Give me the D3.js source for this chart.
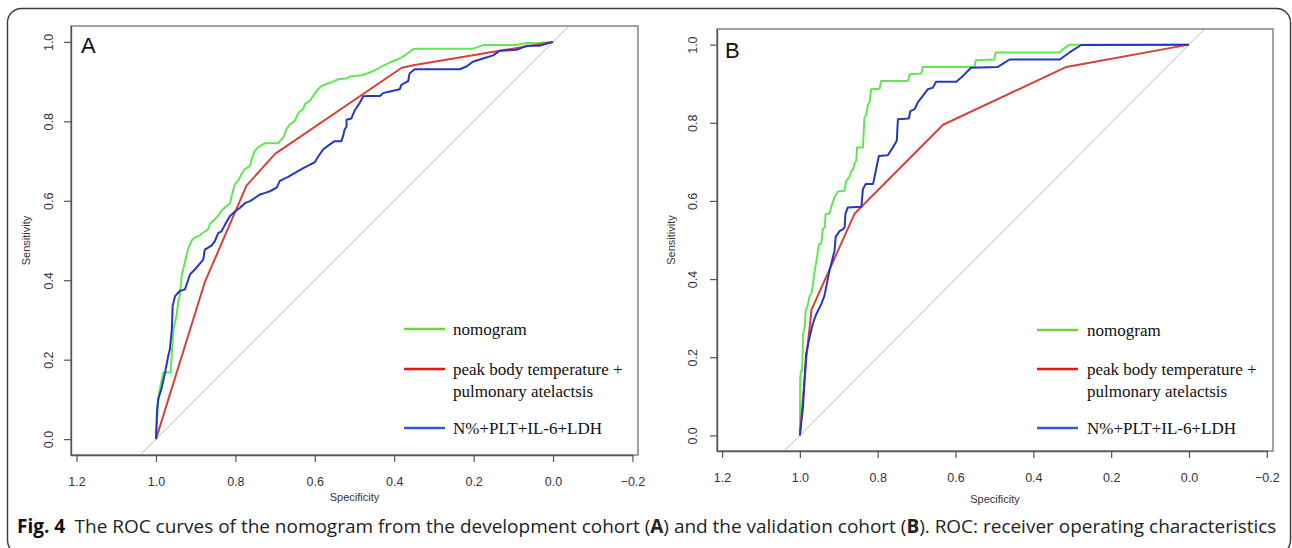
<!DOCTYPE html>
<html>
<head>
<meta charset="utf-8">
<script src="https://cdn.jsdelivr.net/npm/d3@7/dist/d3.min.js"></script>
<style>
  html, body { margin: 0; padding: 0; background: #fff; }
  svg { display: block; }
</style>
</head>
<body>
<svg id="chart" width="1292" height="548"></svg>
<script>
// ---------- DATA ----------
const xTicks = [1.2, 1.0, 0.8, 0.6, 0.4, 0.2, 0.0, -0.2];
const yTicks = [0.0, 0.2, 0.4, 0.6, 0.8, 1.0];
const seriesNames = ["nomogram", "peak body temperature +|pulmonary atelactsis", "N%+PLT+IL-6+LDH"];

// Panel A (development cohort)
const aNomoSpec = [1.000,0.997,0.994,0.990,0.982,0.963,0.961,0.956,0.952,0.948,0.944,0.940,0.935,0.931,0.927,0.923,0.919,0.910,0.902,0.889,0.885,0.868,0.864,0.851,0.843,0.835,0.826,0.814,0.809,0.801,0.793,0.784,0.776,0.763,0.759,0.751,0.742,0.725,0.692,0.679,0.671,0.662,0.650,0.641,0.629,0.625,0.612,0.604,0.595,0.583,0.570,0.558,0.541,0.520,0.511,0.482,0.461,0.444,0.427,0.411,0.394,0.381,0.369,0.352,0.343,0.201,0.176,0.092,0.066,0.033,0.000];
const aNomoSens = [0.000,0.052,0.102,0.127,0.168,0.168,0.198,0.278,0.295,0.312,0.345,0.362,0.412,0.429,0.446,0.462,0.479,0.500,0.508,0.513,0.517,0.529,0.542,0.554,0.563,0.575,0.584,0.592,0.613,0.642,0.651,0.668,0.680,0.688,0.705,0.726,0.735,0.745,0.745,0.760,0.781,0.793,0.801,0.822,0.831,0.843,0.852,0.864,0.877,0.889,0.894,0.898,0.906,0.908,0.913,0.916,0.923,0.931,0.940,0.948,0.955,0.961,0.969,0.982,0.983,0.983,0.992,0.992,0.997,0.998,1.000];

const aClinSpec = [1.000,0.877,0.772,0.700,0.381,0.352,0.000];
const aClinSens = [0.000,0.395,0.638,0.718,0.935,0.941,1.000];

const aLabSpec = [1.000,0.997,0.994,0.986,0.977,0.969,0.965,0.960,0.958,0.952,0.940,0.927,0.914,0.902,0.881,0.877,0.860,0.852,0.843,0.835,0.826,0.814,0.801,0.789,0.776,0.763,0.751,0.738,0.725,0.713,0.696,0.688,0.667,0.650,0.629,0.612,0.600,0.591,0.579,0.562,0.550,0.533,0.529,0.525,0.520,0.520,0.508,0.504,0.499,0.487,0.478,0.462,0.436,0.428,0.411,0.394,0.386,0.382,0.365,0.361,0.348,0.235,0.218,0.202,0.176,0.151,0.134,0.092,0.067,0.034,0.000];
const aLabSens = [0.000,0.077,0.102,0.127,0.168,0.210,0.226,0.276,0.335,0.360,0.373,0.377,0.415,0.427,0.452,0.477,0.487,0.498,0.519,0.523,0.540,0.561,0.573,0.582,0.594,0.599,0.607,0.616,0.620,0.624,0.633,0.650,0.660,0.670,0.682,0.691,0.697,0.712,0.729,0.742,0.750,0.750,0.762,0.779,0.787,0.804,0.807,0.817,0.828,0.846,0.863,0.864,0.864,0.871,0.875,0.879,0.881,0.892,0.901,0.921,0.931,0.931,0.938,0.950,0.958,0.966,0.978,0.980,0.990,0.990,1.000];

// Panel B (validation cohort)
const bNomoSpec = [1.000,0.999,0.997,0.994,0.992,0.988,0.985,0.979,0.975,0.971,0.967,0.962,0.956,0.951,0.945,0.941,0.936,0.934,0.924,0.917,0.911,0.902,0.885,0.881,0.872,0.868,0.864,0.859,0.855,0.853,0.838,0.834,0.829,0.825,0.821,0.817,0.795,0.791,0.722,0.718,0.688,0.684,0.551,0.548,0.500,0.497,0.332,0.324,0.307,0.000];
const bNomoSens = [0.000,0.148,0.165,0.165,0.259,0.272,0.319,0.336,0.357,0.361,0.383,0.421,0.455,0.489,0.491,0.528,0.532,0.566,0.568,0.592,0.609,0.624,0.626,0.651,0.662,0.677,0.679,0.698,0.702,0.737,0.737,0.813,0.822,0.847,0.852,0.886,0.887,0.907,0.907,0.924,0.926,0.943,0.943,0.960,0.962,0.980,0.980,0.988,1.000,1.000];

const bClinSpec = [1.000,0.983,0.970,0.859,0.632,0.315,0.000];
const bClinSens = [0.000,0.203,0.322,0.568,0.795,0.943,1.000];

const bLabSpec = [1.000,0.992,0.984,0.975,0.967,0.958,0.945,0.937,0.924,0.911,0.908,0.898,0.889,0.885,0.883,0.877,0.842,0.838,0.831,0.812,0.804,0.797,0.774,0.761,0.751,0.748,0.720,0.716,0.705,0.697,0.684,0.671,0.658,0.650,0.598,0.581,0.560,0.491,0.461,0.332,0.307,0.277,0.000];
const bLabSens = [0.000,0.072,0.208,0.251,0.285,0.310,0.336,0.357,0.421,0.472,0.508,0.523,0.528,0.532,0.566,0.583,0.585,0.630,0.643,0.643,0.681,0.715,0.717,0.737,0.754,0.809,0.811,0.830,0.835,0.852,0.869,0.886,0.890,0.905,0.905,0.920,0.941,0.943,0.962,0.962,0.980,0.999,1.000];

const curveColors = ["#5fe84f", "#d8413a", "#2537c0"];
const legendColors = ["#77d13f", "#f01010", "#2a5fd0"];

// ---------- DRAW ----------
const svg = d3.select("#chart");

// outer rounded frame
svg.append("rect")
  .attr("x", 7.5).attr("y", 8.5).attr("width", 1283).attr("height", 546)
  .attr("rx", 14).attr("ry", 14)
  .attr("fill", "none").attr("stroke", "#3a3a3a").attr("stroke-width", 1.4);

const panels = [
  { id: "A", box: [71, 638, 26, 455], xDom: [1.214, -0.214], label: "A", labelPos: [81, 53],
    series: [[aNomoSpec, aNomoSens], [aClinSpec, aClinSens], [aLabSpec, aLabSens]],
    yLabX: 30, yTickX: 53, xTickY: 482, xLabY: 501,
    legend: { x1: 404, x2: 445, tx: 453, ys: [329, 369, 428] } },
  { id: "B", box: [717, 1273, 29, 451], xDom: [1.213, -0.216], label: "B", labelPos: [725, 58],
    series: [[bNomoSpec, bNomoSens], [bClinSpec, bClinSens], [bLabSpec, bLabSens]],
    yLabX: 675, yTickX: 697, xTickY: 478, xLabY: 503,
    legend: { x1: 1037, x2: 1078, tx: 1087, ys: [330, 369, 428] } }
];

panels.forEach(p => {
  const [L, R, T, B] = p.box;
  const x = d3.scaleLinear().domain(p.xDom).range([L, R]);
  const y = d3.scaleLinear().domain([-0.04, 1.04]).range([B, T]);
  const g = svg.append("g");

  const clipId = "clip" + p.id;
  svg.append("clipPath").attr("id", clipId)
    .append("rect").attr("x", L).attr("y", T).attr("width", R - L).attr("height", B - T);

  // diagonal reference
  g.append("line")
    .attr("clip-path", `url(#${clipId})`)
    .attr("x1", x(1.2)).attr("y1", y(-0.2)).attr("x2", x(-0.2)).attr("y2", y(1.2))
    .attr("stroke", "#cfcfcf").attr("stroke-width", 1.1);

  // curves
  const line = d3.line().x(d => x(d[0])).y(d => y(d[1]));
  p.series.forEach((s, i) => {
    const pts = s[0].map((v, k) => [v, s[1][k]]);
    g.append("path").datum(pts)
      .attr("d", line)
      .attr("fill", "none")
      .attr("stroke", curveColors[i])
      .attr("stroke-width", 2)
      .attr("stroke-linejoin", "round");
  });

  // box
  g.append("rect").attr("x", L).attr("y", T).attr("width", R - L).attr("height", B - T)
    .attr("fill", "none").attr("stroke", "#8a8a8a").attr("stroke-width", 1.6);

  // axes
  const xAxis = d3.axisBottom(x).tickValues(xTicks).tickSize(7).tickPadding(6)
    .tickFormat(d3.format(".1f"));
  const xg = g.append("g").attr("transform", `translate(0,${B})`).call(xAxis);
  xg.select(".domain").attr("stroke", "#555").attr("stroke-width", 1.4)
    .attr("d", `M${L},0.5H${x(-0.2) + 1}`);
  xg.selectAll(".tick line").attr("stroke", "#555").attr("stroke-width", 1.2);
  xg.selectAll(".tick text").attr("font-family", "Liberation Sans, Arial, sans-serif")
    .attr("font-size", 12.5).attr("fill", "#333").attr("y", p.xTickY - B).attr("dy", "0.35em");

  const yAxis = d3.axisLeft(y).tickValues(yTicks).tickSize(7).tickFormat(d3.format(".1f"));
  const yg = g.append("g").attr("transform", `translate(${L},0)`).call(yAxis);
  yg.select(".domain").attr("stroke", "#555").attr("stroke-width", 1.4)
    .attr("d", `M0.5,${T}V${B}`);
  yg.selectAll(".tick line").attr("stroke", "#555").attr("stroke-width", 1.2);
  yg.selectAll(".tick text")
    .attr("font-family", "Liberation Sans, Arial, sans-serif")
    .attr("font-size", 12.5).attr("fill", "#333")
    .attr("x", null).attr("dy", null)
    .attr("text-anchor", "middle")
    .attr("transform", `translate(${p.yTickX - L},0) rotate(-90)`)
    .attr("y", 0);

  // axis titles
  g.append("text")
    .attr("transform", `translate(${p.yLabX},${(T + B) / 2}) rotate(-90)`)
    .attr("text-anchor", "middle")
    .attr("font-family", "Liberation Sans, Arial, sans-serif").attr("font-size", 11)
    .attr("fill", "#333").text("Sensitivity");
  g.append("text")
    .attr("x", (L + R) / 2).attr("y", p.xLabY)
    .attr("text-anchor", "middle")
    .attr("font-family", "Liberation Sans, Arial, sans-serif").attr("font-size", 11)
    .attr("fill", "#333").text("Specificity");

  // panel letter
  g.append("text").attr("x", p.labelPos[0]).attr("y", p.labelPos[1])
    .attr("font-family", "Liberation Sans, Arial, sans-serif").attr("font-size", 22)
    .attr("fill", "#111").text(p.label);

  // legend
  const lg = p.legend;
  seriesNames.forEach((name, i) => {
    const ly = lg.ys[i];
    g.append("line").attr("x1", lg.x1).attr("x2", lg.x2).attr("y1", ly).attr("y2", ly)
      .attr("stroke", legendColors[i]).attr("stroke-width", 2.6);
    const parts = name.split("|");
    parts.forEach((t, k) => {
      g.append("text").attr("x", lg.tx).attr("y", ly + 5.5 + k * 22)
        .attr("font-family", "Liberation Serif, Times New Roman, serif").attr("font-size", 17)
        .attr("fill", "#111").text(t);
    });
  });
});

// caption
const cap = svg.append("text").attr("x", 17).attr("y", 533)
  .attr("font-family", "Open Sans, Noto Sans, sans-serif").attr("font-size", 16.5).attr("fill", "#222");
const capParts = [
  ["Fig. 4", true], ["\u2002The ROC curves of the nomogram from the development cohort (", false],
  ["A", true], [") and the validation cohort (", false], ["B", true],
  ["). ROC: receiver operating characteristics", false]
];
capParts.forEach(([t, b]) => {
  cap.append("tspan").attr("font-weight", b ? 700 : 400).attr("fill", b && t.startsWith("Fig") ? "#111" : "#222").text(t);
});
const w = cap.node().getComputedTextLength();
const target = 1260;
cap.attr("font-size", 16.5 * target / w);
</script>
</body>
</html>
